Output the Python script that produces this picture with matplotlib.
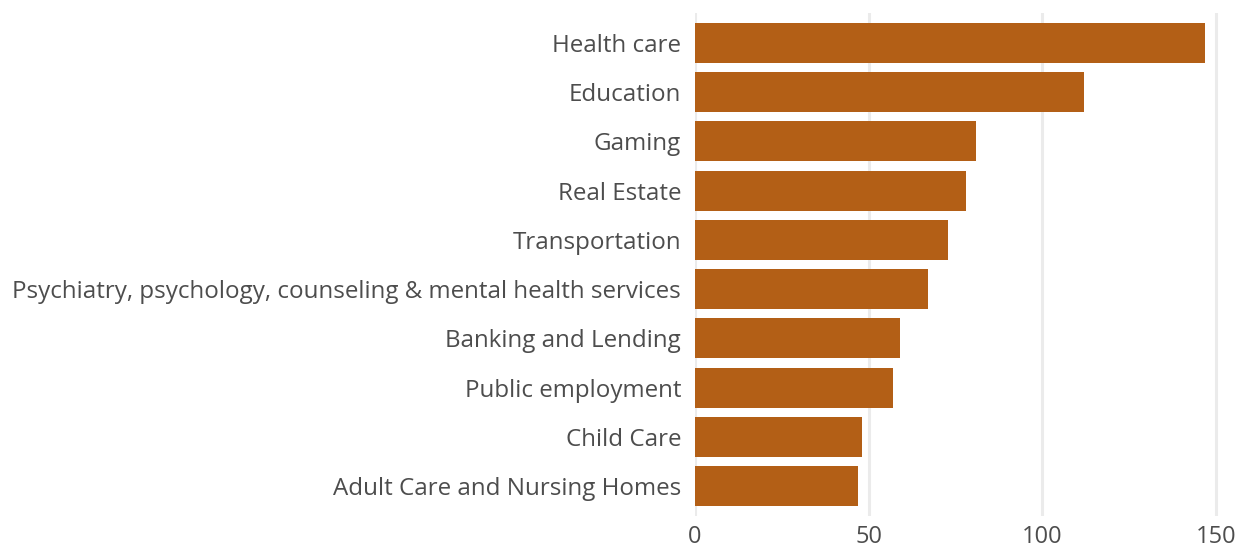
import matplotlib
matplotlib.use('Agg')
import matplotlib.pyplot as plt

categories = [
    'Health care',
    'Education',
    'Gaming',
    'Real Estate',
    'Transportation',
    'Psychiatry, psychology, counseling & mental health services',
    'Banking and Lending',
    'Public employment',
    'Child Care',
    'Adult Care and Nursing Homes',
]
values = [147, 112, 81, 78, 73, 67, 59, 57, 48, 47]
xticks = [0, 50, 100, 150]

plt.rcParams['font.family'] = ['Open Sans', 'DejaVu Sans']
text_color = '#4d4d4d'

W, H = 1236, 548
fig = plt.figure(figsize=(W / 100, H / 100), dpi=100)
ax = fig.add_axes([695 / W, (H - 516) / H, (1233 - 695) / W, 503 / H])

ypos = list(range(len(categories)))
ax.barh(ypos, values, height=0.81, color='#b35f16', zorder=3)

ax.set_xlim(0, 155)
ax.set_ylim(len(categories) - 0.4, -0.6)
ax.set_yticks(ypos)
ax.set_yticklabels(categories)
ax.set_xticks(xticks)
ax.set_xticklabels([str(t) for t in xticks])

ax.grid(axis='x', color='#ebebeb', linewidth=2.2, zorder=0)
for s in ax.spines.values():
    s.set_visible(False)
ax.tick_params(axis='y', length=0, colors=text_color, labelsize=17.4, pad=10)
ax.tick_params(axis='x', length=0, colors=text_color, labelsize=17, pad=6.5)

fig.savefig('out.png', dpi=100)
